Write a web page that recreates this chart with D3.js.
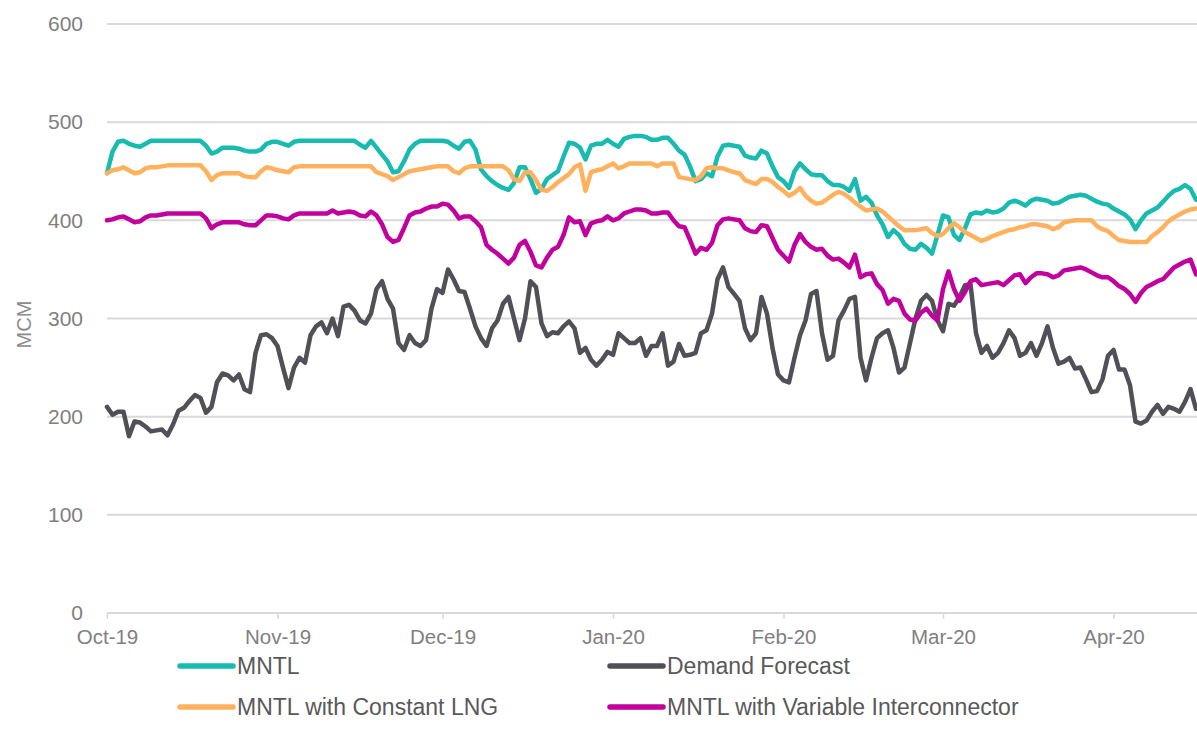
<!DOCTYPE html>
<html>
<head>
    <meta charset="utf-8" />
    <title>MNTL</title>
    <style>
        body { margin: 0; background: #fff; }
        #chart { width: 1197px; height: 745px; }
        text { font-family: "Liberation Sans", Arial, sans-serif; }
    </style>
</head>
<body>
    <div id="chart"></div>
    <script src="https://cdn.jsdelivr.net/npm/d3@7"></script>
    <script>
        // daily values from 1 Oct 2019
        var startDate = new Date(2019, 9, 1);

        var mntl = [448,470,480,481,478,476,475,478,481,481,481,481,481,481,481,481,481,481,476,468,
            470,474,474,474,473,471,470,470,472,478,480,480,478,476,480,481,481,481,481,481,
            481,481,481,481,481,481,477,474,481,474,467,460,449,450,460,472,478,481,481,481,
            481,481,480,476,473,480,481,472,452,445,440,436,433,431,438,454,454,442,428,432,
            442,446,450,465,479,478,474,462,476,478,478,482,478,475,483,485,486,486,485,482,
            482,484,484,478,471,467,455,440,442,448,445,465,476,477,476,475,466,464,463,471,
            468,455,444,440,433,450,458,452,447,446,446,440,436,436,434,430,442,420,424,418,
            405,396,383,390,385,376,371,370,376,372,366,385,405,403,385,380,392,406,408,407,
            410,408,409,412,418,420,418,415,420,422,421,420,417,418,421,424,425,426,425,422,
            419,417,416,412,409,406,401,391,400,407,410,413,419,425,430,432,436,432,421];

        var demand = [210,202,205,205,180,195,194,190,185,186,187,181,192,206,209,216,222,219,204,210,
            235,244,242,237,243,228,225,265,283,284,280,272,250,229,250,260,255,283,292,296,
            285,300,282,312,314,308,298,295,305,330,338,320,310,275,268,283,275,272,278,310,
            330,326,350,340,328,327,310,292,280,272,290,298,315,322,300,278,300,338,332,295,
            282,286,285,292,297,290,265,270,258,252,258,266,263,285,280,275,275,280,262,272,
            272,285,252,256,274,262,263,265,285,288,305,340,352,332,325,318,290,278,285,322,
            305,270,243,237,235,260,283,298,325,328,285,258,262,298,308,320,322,260,237,260,
            280,285,288,270,245,250,275,300,318,324,318,298,287,315,313,322,334,335,285,265,
            272,260,265,275,288,280,262,265,275,262,275,292,270,254,256,260,249,250,238,225,
            226,238,262,268,248,248,232,195,193,196,205,212,203,210,208,205,215,228,208];

        var constantLng = [448,451,452,454,451,448,449,453,454,454,455,456,456,456,456,456,456,456,450,441,
            446,448,448,448,448,445,444,444,450,454,453,451,450,449,454,455,455,455,455,455,
            455,455,455,455,455,455,455,455,455,449,447,445,441,444,447,450,451,452,453,454,
            455,455,455,450,448,453,455,455,455,455,455,455,455,451,442,440,449,449,441,431,
            430,434,439,443,447,454,457,430,449,451,452,455,458,453,455,458,458,458,458,458,
            455,458,458,458,444,443,442,441,445,453,454,453,453,451,449,448,441,439,437,442,
            442,439,434,430,425,428,433,425,420,417,418,422,426,429,427,423,418,414,410,411,
            412,409,404,399,394,390,390,390,391,392,387,384,386,392,397,393,388,385,382,379,
            381,384,386,388,390,391,393,394,396,396,395,394,391,393,398,399,400,400,400,400,
            394,391,389,384,380,379,378,378,378,378,384,388,393,399,403,406,409,411,412];

        var variableIc = [400,401,403,404,401,398,399,403,405,405,406,407,407,407,407,407,407,407,402,392,
            396,398,398,398,398,396,395,395,400,405,405,404,402,401,405,407,407,407,407,407,
            407,410,407,408,409,408,405,404,409,405,396,383,378,380,392,405,408,409,412,414,
            414,417,416,410,402,404,404,399,393,375,370,366,361,356,362,375,379,368,354,352,
            362,370,373,385,403,398,399,385,397,399,400,404,400,402,407,409,411,411,410,407,
            407,408,408,400,394,393,380,366,372,370,377,395,401,402,401,400,392,389,388,395,
            394,382,370,364,358,375,386,378,373,370,371,364,360,361,357,352,365,342,345,346,
            335,329,315,320,318,305,299,298,306,310,303,298,330,348,330,318,327,338,340,334,
            335,336,337,334,339,344,345,336,342,346,346,345,342,344,349,350,351,352,350,347,
            344,342,342,338,333,330,325,317,326,332,335,338,340,346,352,355,358,360,345];

        var seriesNames = ["MNTL", "Demand Forecast", "MNTL with Constant LNG", "MNTL with Variable Interconnector"];
        var seriesColors = ["#17bbb0", "#505056", "#ffb15e", "#c2009e"];
        var yTicks = [0, 100, 200, 300, 400, 500, 600];
        var monthTicks = [new Date(2019, 9, 1), new Date(2019, 10, 1), new Date(2019, 11, 1),
            new Date(2020, 0, 1), new Date(2020, 1, 1), new Date(2020, 2, 1), new Date(2020, 3, 1)];

        var width = 1197, height = 745;
        var margin = { left: 107, right: 1, top: 24, bottom: 132 };

        var series = [mntl, demand, constantLng, variableIc].map(function (vals, i) {
            return {
                name: seriesNames[i],
                color: seriesColors[i],
                values: vals.map(function (v, d) { return { date: d3.timeDay.offset(startDate, d), value: v }; })
            };
        });

        var x = d3.scaleTime()
            .domain([startDate, d3.timeDay.offset(startDate, mntl.length - 1)])
            .range([margin.left, width - margin.right]);
        var y = d3.scaleLinear()
            .domain([0, 600])
            .range([height - margin.bottom, margin.top]);

        var svg = d3.select("#chart").append("svg")
            .attr("width", width)
            .attr("height", height);

        // gridlines
        svg.append("g")
            .selectAll("line")
            .data(yTicks.filter(function (t) { return t > 0; }))
            .join("line")
            .attr("x1", margin.left).attr("x2", width)
            .attr("y1", function (d) { return y(d); }).attr("y2", function (d) { return y(d); })
            .attr("stroke", "#d9d9d9").attr("stroke-width", 2);

        // y axis labels
        svg.append("g")
            .attr("transform", "translate(" + (margin.left - 8) + ",0)")
            .call(d3.axisLeft(y).tickValues(yTicks).tickSize(0).tickPadding(16))
            .call(function (g) { g.select(".domain").remove(); })
            .call(function (g) {
                g.selectAll("text").attr("font-size", 21).attr("fill", "#808080")
                    .attr("font-family", "Liberation Sans, Arial, sans-serif");
            });

        svg.append("text")
            .attr("transform", "translate(31," + (y(300) + 6) + ") rotate(-90)")
            .attr("text-anchor", "middle")
            .attr("font-size", 20)
            .attr("fill", "#8c8c8c")
            .text("MCM");

        // x axis
        svg.append("g")
            .attr("transform", "translate(0," + y(0) + ")")
            .call(d3.axisBottom(x).tickValues(monthTicks).tickSize(6).tickPadding(10)
                .tickFormat(d3.timeFormat("%b-%y")))
            .call(function (g) {
                g.select(".domain").attr("stroke", "#d9d9d9").attr("stroke-width", 2)
                    .attr("d", "M" + margin.left + ",0H" + width);
                g.selectAll(".tick line").attr("stroke", "#d9d9d9").attr("stroke-width", 1.5);
                g.selectAll("text").attr("font-size", 20.5).attr("fill", "#808080")
                    .attr("font-family", "Liberation Sans, Arial, sans-serif");
            });

        // lines
        var line = d3.line()
            .x(function (d) { return x(d.date); })
            .y(function (d) { return y(d.value); });

        svg.append("g")
            .selectAll("path")
            .data(series)
            .join("path")
            .attr("fill", "none")
            .attr("stroke", function (d) { return d.color; })
            .attr("stroke-width", 4.5)
            .attr("stroke-linejoin", "round")
            .attr("stroke-linecap", "round")
            .attr("d", function (d) { return line(d.values); });

        // legend, two columns x two rows
        var legendPos = [[178, 666], [608, 666], [178, 707], [608, 707]];
        var legend = svg.append("g")
            .selectAll("g")
            .data(series)
            .join("g")
            .attr("transform", function (d, i) { return "translate(" + legendPos[i][0] + "," + legendPos[i][1] + ")"; });
        legend.append("line")
            .attr("x1", 2).attr("x2", 55)
            .attr("stroke", function (d) { return d.color; })
            .attr("stroke-width", 5.5)
            .attr("stroke-linecap", "round");
        legend.append("text")
            .attr("x", 59)
            .attr("dy", "0.36em")
            .attr("font-size", 23)
            .attr("fill", "#595959")
            .text(function (d) { return d.name; });
    </script>
</body>
</html>
